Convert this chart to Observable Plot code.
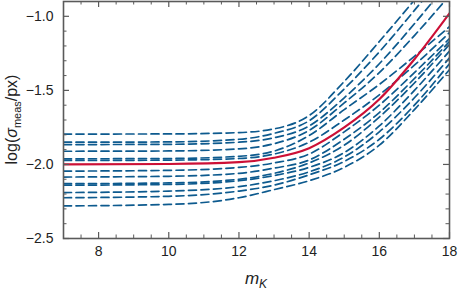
<!DOCTYPE html>
<html>
<head>
<meta charset="utf-8">
<script src="https://cdn.jsdelivr.net/npm/d3@7"></script>
<script src="https://cdn.jsdelivr.net/npm/@observablehq/plot@0.6"></script>
<style>
  html, body { margin: 0; padding: 0; background: #fff; }
  svg { display: block; }
</style>
</head>
<body>
<div id="chart"></div>
<script>
// magnitudes where each curve is sampled
const mK = [7, 10, 12, 13, 14, 15, 16, 17, 18];

// red solid reference curve
const redCurve = [-2.0, -1.997, -1.985, -1.955, -1.89, -1.75, -1.56, -1.29, -0.98];

// blue dashed curves (values at mK)
const blue01 = [-1.795, -1.794, -1.785, -1.76, -1.67, -1.44, -1.17, -0.89, -0.60];
const blue02 = [-1.850, -1.848, -1.830, -1.79, -1.705, -1.49, -1.24, -0.96, -0.67];
const blue03 = [-1.866, -1.864, -1.850, -1.82, -1.74, -1.55, -1.32, -1.05, -0.76];
const blue04 = [-1.911, -1.909, -1.895, -1.86, -1.77, -1.585, -1.38, -1.13, -0.86];
const blue05 = [-1.962, -1.960, -1.945, -1.91, -1.805, -1.63, -1.46, -1.27, -1.07];
const blue06 = [-1.973, -1.971, -1.960, -1.93, -1.85, -1.70, -1.53, -1.33, -1.11];
const blue07 = [-2.045, -2.040, -2.020, -1.99, -1.93, -1.78, -1.60, -1.38, -1.15];
const blue08 = [-2.085, -2.080, -2.060, -2.025, -1.97, -1.83, -1.65, -1.42, -1.17];
const blue09 = [-2.130, -2.125, -2.100, -2.06, -1.99, -1.87, -1.68, -1.45, -1.19];
const blue10 = [-2.140, -2.135, -2.110, -2.075, -2.02, -1.92, -1.74, -1.50, -1.235];
const blue11 = [-2.190, -2.180, -2.150, -2.11, -2.05, -1.95, -1.78, -1.55, -1.28];
const blue12 = [-2.225, -2.215, -2.180, -2.14, -2.07, -1.98, -1.83, -1.60, -1.32];
const blue13 = [-2.280, -2.270, -2.225, -2.17, -2.11, -2.02, -1.87, -1.63, -1.36];
const blueCurves = [blue01, blue02, blue03, blue04, blue05, blue06, blue07, blue08, blue09, blue10, blue11, blue12, blue13];

// tick positions
const xMajor = [8, 10, 12, 14, 16, 18];
const xMinor = [7.5, 8.5, 9, 9.5, 10.5, 11, 11.5, 12.5, 13, 13.5, 14.5, 15, 15.5, 16.5, 17, 17.5];
const yMajor = [-2.5, -2.0, -1.5, -1.0];
const yMinor = [-2.4, -2.3, -2.2, -2.1, -1.9, -1.8, -1.7, -1.6, -1.4, -1.3, -1.2, -1.1, -0.9];

const blueRows = blueCurves.flatMap((arr, i) => arr.map((v, j) => ({m: mK[j], v, id: i})));
const redRows = redCurve.map((v, j) => ({m: mK[j], v}));

const W = 458, H = 290;
const mL = 63, mR = 9, mT = 1, mB = 52;
const innerH = H - mT - mB;
const innerW = W - mL - mR;
const axisColor = "#5a5a5a";

const svg = Plot.plot({
  width: W,
  height: H,
  marginLeft: mL,
  marginRight: mR,
  marginTop: mT,
  marginBottom: mB,
  style: {fontFamily: "'Liberation Sans', Arial, sans-serif", fontSize: "14px", color: "#222", background: "#fff"},
  x: {domain: [7, 18]},
  y: {domain: [-2.5, -0.9]},
  marks: [
    Plot.line(blueRows, {x: "m", y: "v", z: "id", stroke: "#0d5a8e", strokeWidth: 1.7, strokeDasharray: "8,4.5", curve: "monotone-x", clip: true}),
    Plot.line(redRows, {x: "m", y: "v", stroke: "#cc1036", strokeWidth: 2.2, curve: "monotone-x", clip: true}),
    // inward ticks: bottom & top
    Plot.tickX(xMajor, {x: d => d, stroke: axisColor, strokeWidth: 1.2, insetTop: innerH - 6}),
    Plot.tickX(xMajor, {x: d => d, stroke: axisColor, strokeWidth: 1.2, insetBottom: innerH - 6}),
    Plot.tickX(xMinor, {x: d => d, stroke: axisColor, strokeWidth: 1, insetTop: innerH - 3.5}),
    Plot.tickX(xMinor, {x: d => d, stroke: axisColor, strokeWidth: 1, insetBottom: innerH - 3.5}),
    // inward ticks: left & right
    Plot.tickY(yMajor, {y: d => d, stroke: axisColor, strokeWidth: 1.2, insetRight: innerW - 6}),
    Plot.tickY(yMajor, {y: d => d, stroke: axisColor, strokeWidth: 1.2, insetLeft: innerW - 6}),
    Plot.tickY(yMinor, {y: d => d, stroke: axisColor, strokeWidth: 1, insetRight: innerW - 3.5}),
    Plot.tickY(yMinor, {y: d => d, stroke: axisColor, strokeWidth: 1, insetLeft: innerW - 3.5}),
    Plot.axisX({ticks: xMajor, tickSize: 0, tickPadding: 8, label: null, fontSize: 14, fill: "#222"}),
    Plot.axisY({ticks: yMajor, tickSize: 0, tickPadding: 10, tickFormat: d3.format(".1f"), label: null, fontSize: 14, fill: "#222"}),
    Plot.frame({stroke: axisColor, strokeWidth: 1.6})
  ]
});

const s = d3.select(svg);
// y-axis title
const yt = s.append("text")
  .attr("transform", `translate(17, ${mT + innerH / 2}) rotate(-90)`)
  .attr("text-anchor", "middle")
  .attr("font-family", "'Liberation Sans', Arial, sans-serif")
  .attr("font-size", 16)
  .attr("fill", "#222");
yt.append("tspan").text("log(");
yt.append("tspan").attr("font-style", "italic").text("σ");
yt.append("tspan").attr("font-size", 11).attr("dy", 4).text("meas");
yt.append("tspan").attr("dy", -4).text("/px)");

// x-axis title
const xt = s.append("text")
  .attr("x", mL + innerW / 2)
  .attr("y", 284)
  .attr("text-anchor", "middle")
  .attr("font-family", "'Liberation Sans', Arial, sans-serif")
  .attr("font-size", 17)
  .attr("fill", "#222");
xt.append("tspan").attr("font-style", "italic").text("m");
xt.append("tspan").attr("font-style", "italic").attr("font-size", 12).attr("dy", 4).text("K");

document.getElementById("chart").appendChild(svg);
</script>
</body>
</html>
